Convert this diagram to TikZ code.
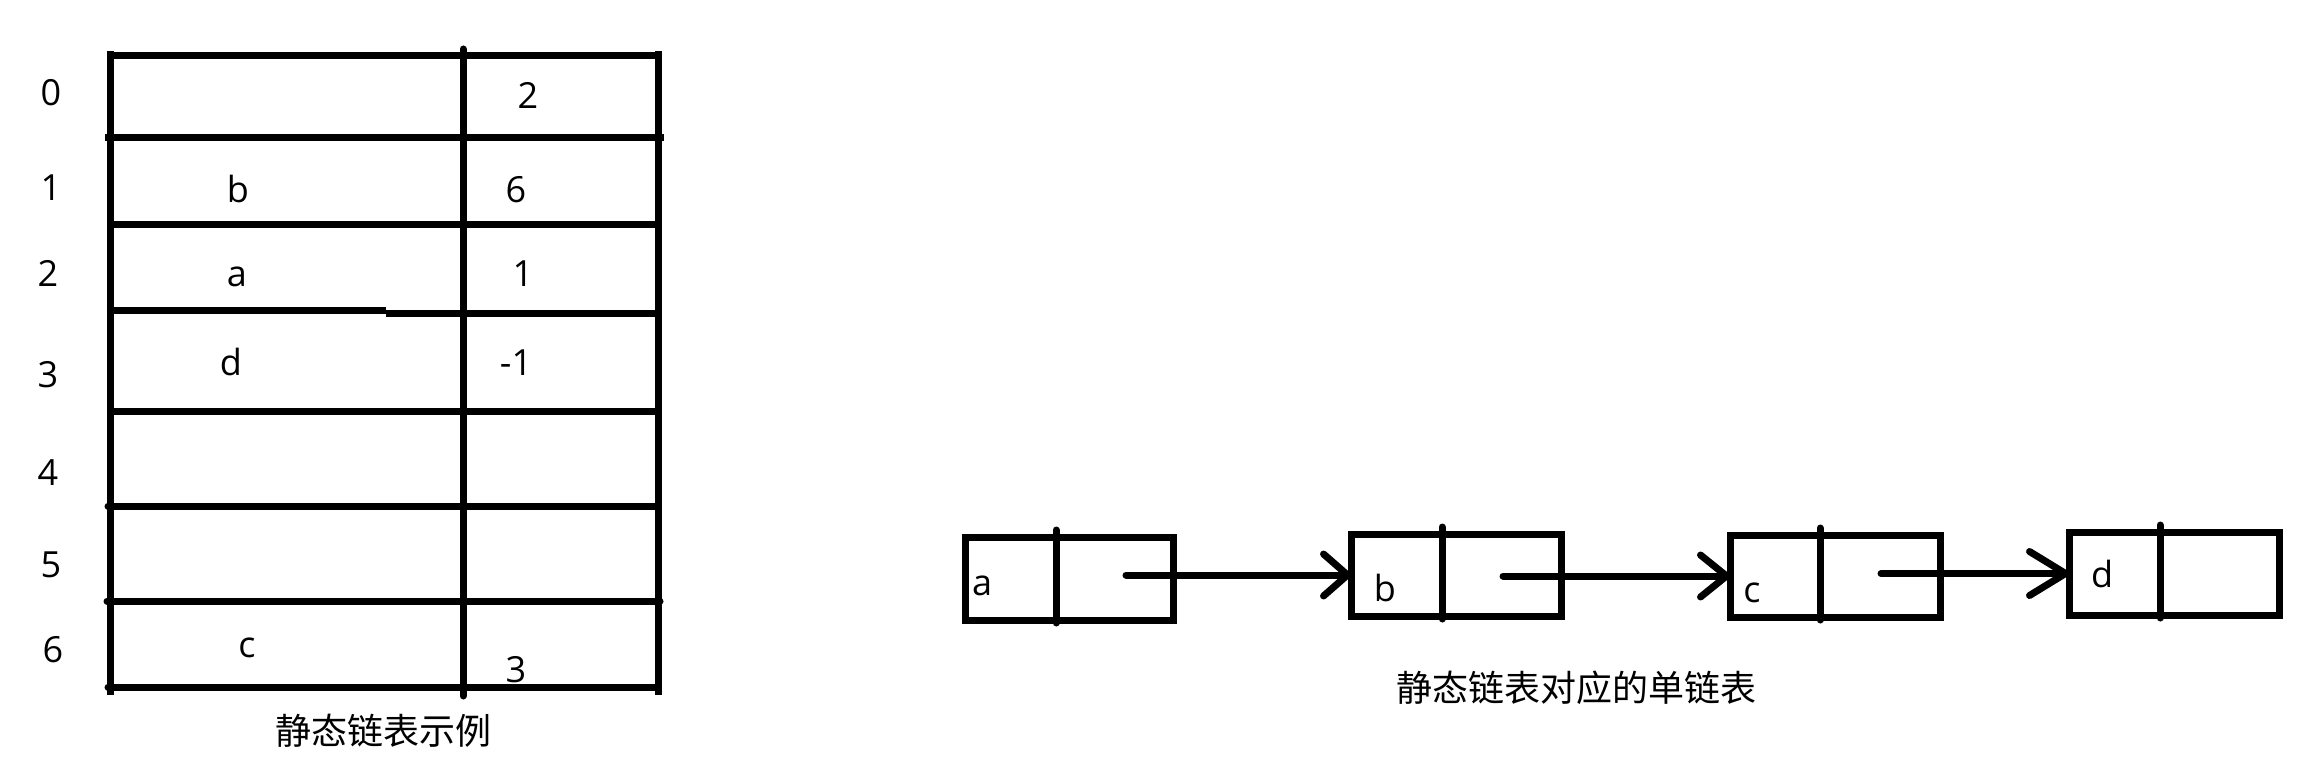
\documentclass[tikz,border=0pt]{standalone}
\usepackage{fontspec}
\setmainfont{Open Sans}
\newfontfamily\cjk{Noto Sans CJK SC}
\usetikzlibrary{arrows.meta}
\begin{document}
\begin{tikzpicture}[x=1pt,y=-1pt,
  tbl/.style={line width=7pt,line cap=rect},
  tblr/.style={line width=7pt,line cap=round},
  lbl/.style={anchor=base,inner sep=0pt,font=\fontsize{36}{40}\selectfont},
  captext/.style={anchor=base,inner sep=0pt,font=\cjk\fontsize{36}{40}\selectfont},
  lbox/.style={draw,line width=7pt,minimum height=83pt,inner sep=0pt,outer sep=0pt},
  divl/.style={line width=7pt,line cap=round},
  ptr/.style={line width=7pt,line cap=round,line join=round}
]
\useasboundingbox (0,0) rectangle (2298,759);

% ---------- static linked list table ----------
\draw[tbl] (110,55) -- (110,691);
\draw[tblr] (463,49) -- (463,696);
\draw[tbl] (658,55) -- (658,691);
\draw[tbl] (110,55.3) -- (658,55.3);
\draw[tbl] (108,137.5) -- (660,137.5);
\draw[tbl] (110,225) -- (658,225);
\draw[line width=6.5pt] (106.5,310.5) -- (386,310.5);
\draw[line width=7pt] (386,313) -- (661.5,313);
\draw[tbl] (110,411) -- (658,411);
\draw[tblr] (108,506) -- (658,506);
\draw[tblr] (107,601) -- (660,601);
\draw[tblr] (108,687) -- (658,687);

% row indices
\node[lbl] (i0) at (51,106) {0};
\node[lbl] (i1) at (51,201) {1};
\node[lbl] (i2) at (48,287) {2};
\node[lbl] (i3) at (48,387) {3};
\node[lbl] (i4) at (48,485) {4};
\node[lbl] (i5) at (51,577) {5};
\node[lbl] (i6) at (53,662) {6};

% cell contents
\node[lbl] (c0) at (528,109) {2};
\node[lbl] (d1) at (238,203) {b};
\node[lbl] (c1) at (516,203) {6};
\node[lbl] (d2) at (237,287) {a};
\node[lbl] (c2) at (523,287) {1};
\node[lbl] (d3) at (231,375) {d};
\node[lbl] (c3) at (516,375) {-1};
\node[lbl] (d6) at (247,657) {c};
\node[lbl] (c6) at (516,682) {3};

\node[captext] (cap1) at (383,744) {静态链表示例};

% ---------- singly linked list ----------
\node[lbox,minimum width=208pt,minimum height=83pt] (na) at (1069,578.5) {};
\node[lbox,minimum width=210pt,minimum height=82pt] (nb) at (1456,575) {};
\node[lbox,minimum width=210pt,minimum height=82pt] (nc) at (1835,576) {};
\node[lbox,minimum width=210pt,minimum height=83pt] (nd) at (2174,573.5) {};

\draw[divl] ([xshift=91pt,yshift=7pt]na.north west) -- ([xshift=91pt,yshift=-3pt]na.south west);
\draw[divl] ([xshift=91pt,yshift=7pt]nb.north west) -- ([xshift=91pt,yshift=-3pt]nb.south west);
\draw[divl] ([xshift=90pt,yshift=7pt]nc.north west) -- ([xshift=90pt,yshift=-3pt]nc.south west);
\draw[divl] ([xshift=91pt,yshift=7pt]nd.north west) -- ([xshift=91pt,yshift=-3pt]nd.south west);

\node[lbl] (ta) at (982,595) {a};
\node[lbl] (tb) at (1385,601) {b};
\node[lbl] (tc) at (1752,602) {c};
\node[lbl] (td) at (2102,587) {d};

\coordinate (pa) at (1126,575);
\coordinate (pb) at (1503,576);
\coordinate (pc) at (1881,573.5);

\draw[ptr,-{Straight Barb[length=24pt,width=42pt,round]}] (pa) -- (nb.west);
\draw[ptr,-{Straight Barb[length=26pt,width=42pt,round]}] (pb) -- (nc.west);
\draw[ptr,-{Straight Barb[length=36pt,width=44pt,round]}] (pc) -- (nd.west);

\node[captext] (cap2) at (1576,701) {静态链表对应的单链表};
\end{tikzpicture}
\end{document}
